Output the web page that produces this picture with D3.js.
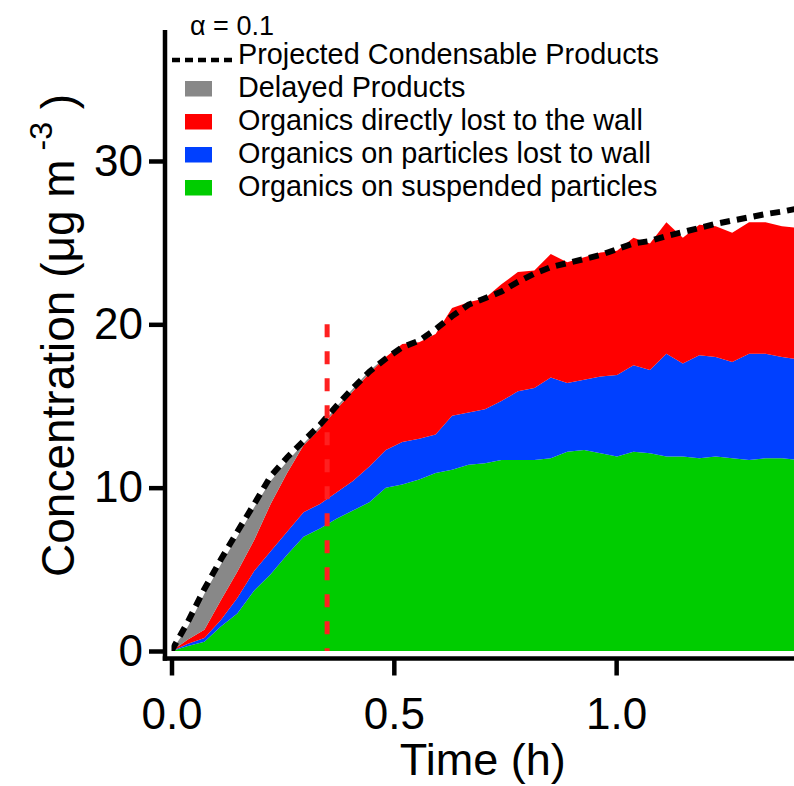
<!DOCTYPE html>
<html>
<head>
<meta charset="utf-8">
<script src="https://cdn.jsdelivr.net/npm/d3@7/dist/d3.min.js"></script>
<style>
  html, body { margin: 0; padding: 0; background: #fff; }
  svg { display: block; }
  text { font-family: "Liberation Sans", Arial, sans-serif; fill: #000; }
</style>
</head>
<body>
<svg id="chart" width="794" height="786"></svg>
<script>
// Simulation output, sampled every ~2.2 min (time in hours)
const times = [0, 0.037, 0.074, 0.111, 0.148, 0.186, 0.223, 0.260, 0.297, 0.334,
  0.371, 0.408, 0.445, 0.482, 0.519, 0.557, 0.594, 0.631, 0.668, 0.705,
  0.742, 0.779, 0.816, 0.853, 0.890, 0.928, 0.965, 1.002, 1.039, 1.076,
  1.113, 1.150, 1.187, 1.224, 1.261, 1.299, 1.336, 1.373, 1.410];

// Organics on suspended particles (µg m^-3)
const suspended = [0, 0.3, 0.57, 1.5, 2.3, 3.7, 4.7, 5.9, 7.0, 7.5,
  8.1, 8.6, 9.1, 10.0, 10.2, 10.5, 10.9, 11.1, 11.4, 11.5,
  11.7, 11.7, 11.7, 11.8, 12.2, 12.3, 12.1, 11.9, 12.2, 12.1,
  11.9, 11.9, 11.8, 11.9, 11.8, 11.7, 11.8, 11.8, 11.7];

// Organics on particles lost to the wall
const particleWall = [0, 0.15, 0.23, 0.4, 0.95, 1.2, 1.4, 1.4, 1.5, 1.5,
  1.6, 1.8, 2.2, 2.3, 2.6, 2.5, 2.35, 3.3, 3.2, 3.3,
  3.6, 4.2, 4.4, 4.95, 4.2, 4.3, 4.7, 5.0, 5.3, 5.1,
  6.3, 5.7, 6.3, 6.1, 5.9, 6.5, 6.4, 6.2, 6.15];

// Organics directly lost to the wall
const directWall = [0, 0.25, 0.5, 1.2, 1.6, 1.9, 2.9, 3.6, 4.1, 4.6,
  5.1, 5.5, 5.7, 5.7, 6.0, 5.9, 6.15, 6.6, 6.75, 6.8,
  7.15, 7.3, 7.2, 7.55, 7.4, 7.5, 7.6, 7.6, 7.8, 7.75,
  8.05, 7.7, 8.0, 8.0, 7.9, 8.05, 8.05, 8.0, 8.05];

// Delayed products
const delayed = [0, 0.8, 2.2, 2.2, 2.15, 2.0, 1.4, 0.7, 0.1, 0.15,
  0.15, 0.15, 0.15, 0, 0, 0, 0, 0, 0, 0,
  0, 0, 0, 0, 0, 0, 0, 0, 0, 0,
  0, 0, 0, 0, 0, 0, 0, 0, 0];

// Projected condensable products
const projected = [0, 1.8, 3.8, 5.6, 7.3, 9.0, 10.7, 11.85, 12.85, 13.85,
  15.0, 16.1, 17.1, 17.9, 18.6, 19.0, 19.7, 20.5, 21.2, 21.6,
  22.0, 22.6, 23.1, 23.5, 23.75, 24.0, 24.25, 24.6, 24.95, 25.1,
  25.4, 25.65, 25.9, 26.15, 26.35, 26.55, 26.75, 26.9, 27.1];

const markerTime = 0.35;      // vertical reference line
const markerTop = 20;
const xTicks = [0, 0.5, 1.0];
const xTickLabels = ["0.0", "0.5", "1.0"];
const yTicks = [0, 10, 20, 30];

const seriesKeys = ["suspended", "particleWall", "directWall", "delayed"];
const seriesColors = {
  suspended: "#00CC00",
  particleWall: "#0040FF",
  directWall: "#FF0000",
  delayed: "#888888"
};
const legendItems = [
  { label: "Delayed Products", key: "delayed" },
  { label: "Organics directly lost to the wall", key: "directWall" },
  { label: "Organics on particles lost to wall", key: "particleWall" },
  { label: "Organics on suspended particles", key: "suspended" }
];

const rows = times.map((t, i) => ({
  t,
  suspended: suspended[i],
  particleWall: particleWall[i],
  directWall: directWall[i],
  delayed: delayed[i],
  projected: projected[i]
}));

const svg = d3.select("#chart");
const x = d3.scaleLinear().domain([0, 1.4]).range([171.5, 794]);
const y = d3.scaleLinear().domain([0, 38]).range([651, 30.3]);

// clip region for the data
svg.append("defs").append("clipPath").attr("id", "plotClip")
  .append("rect").attr("x", x(0)).attr("y", 0)
  .attr("width", 794 - x(0)).attr("height", y(0));

const plot = svg.append("g").attr("clip-path", "url(#plotClip)");

const stacked = d3.stack().keys(seriesKeys)(rows);
const area = d3.area()
  .x(d => x(d.data.t))
  .y0(d => y(d[0]))
  .y1(d => y(d[1]));

plot.selectAll("path.layer").data(stacked).join("path")
  .attr("class", "layer")
  .attr("fill", d => seriesColors[d.key])
  .attr("d", area);

// projected condensable products (dotted)
const line = d3.line().x(d => x(d.t)).y(d => y(d.projected));
plot.append("path").datum(rows)
  .attr("fill", "none")
  .attr("stroke", "#000")
  .attr("stroke-width", 6)
  .attr("stroke-dasharray", "10,7")
  .attr("d", line);

// vertical marker
svg.append("line")
  .attr("x1", x(markerTime)).attr("x2", x(markerTime))
  .attr("y1", y(markerTop)).attr("y2", y(0))
  .attr("stroke", "#FF2020")
  .attr("stroke-width", 5)
  .attr("stroke-dasharray", "13,14");

// axes
const axisColor = "#000";
const yAxisX = 165, xAxisY = 658.5;

svg.append("line").attr("x1", yAxisX).attr("x2", yAxisX)
  .attr("y1", 30).attr("y2", xAxisY + 2.25)
  .attr("stroke", axisColor).attr("stroke-width", 4.5);
svg.append("line").attr("x1", yAxisX - 2.25).attr("x2", 794)
  .attr("y1", xAxisY).attr("y2", xAxisY)
  .attr("stroke", axisColor).attr("stroke-width", 4.5);

const yAxis = svg.append("g").attr("transform", `translate(${yAxisX},0)`)
  .call(d3.axisLeft(y).tickValues(yTicks).tickSize(16).tickPadding(6)
    .tickFormat(d3.format("d")));
yAxis.select(".domain").remove();
yAxis.selectAll(".tick line").attr("stroke", axisColor).attr("stroke-width", 4.5);
yAxis.selectAll(".tick text").attr("font-size", 44)
  .attr("font-family", "Liberation Sans, Arial, sans-serif");

const xAxis = svg.append("g").attr("transform", `translate(0,${xAxisY})`)
  .call(d3.axisBottom(x).tickValues(xTicks).tickSize(17).tickPadding(22)
    .tickFormat((d, i) => xTickLabels[i]));
xAxis.select(".domain").remove();
xAxis.selectAll(".tick line").attr("stroke", axisColor).attr("stroke-width", 4.5);
xAxis.selectAll(".tick text").attr("font-size", 44)
  .attr("font-family", "Liberation Sans, Arial, sans-serif");

// axis titles
svg.append("text")
  .attr("x", (x(0) + 794) / 2).attr("y", 775)
  .attr("text-anchor", "middle").attr("font-size", 45)
  .text("Time (h)");

const yTitle = svg.append("text")
  .attr("transform", "translate(74,577) rotate(-90)")
  .attr("font-size", 46);
yTitle.append("tspan").text("Concentration (μg m");
yTitle.append("tspan").attr("font-size", 32).attr("dy", -22).text(" -3");
yTitle.append("tspan").attr("dy", 22).text(" )");

// legend
svg.append("text").attr("x", 190).attr("y", 35).attr("font-size", 27)
  .text("α = 0.1");

svg.append("line").attr("x1", 172).attr("x2", 236)
  .attr("y1", 60).attr("y2", 60)
  .attr("stroke", "#000").attr("stroke-width", 4.5)
  .attr("stroke-dasharray", "8,5");
svg.append("text").attr("x", 238).attr("y", 64).attr("font-size", 28.8)
  .text("Projected Condensable Products");

const legendBase = [97, 130, 163, 196];
legendItems.forEach((item, i) => {
  svg.append("rect")
    .attr("x", 185).attr("y", legendBase[i] - 16)
    .attr("width", 27).attr("height", 15.5)
    .attr("fill", seriesColors[item.key]);
  svg.append("text").attr("x", 238).attr("y", legendBase[i])
    .attr("font-size", 28.8).text(item.label);
});
</script>
</body>
</html>
